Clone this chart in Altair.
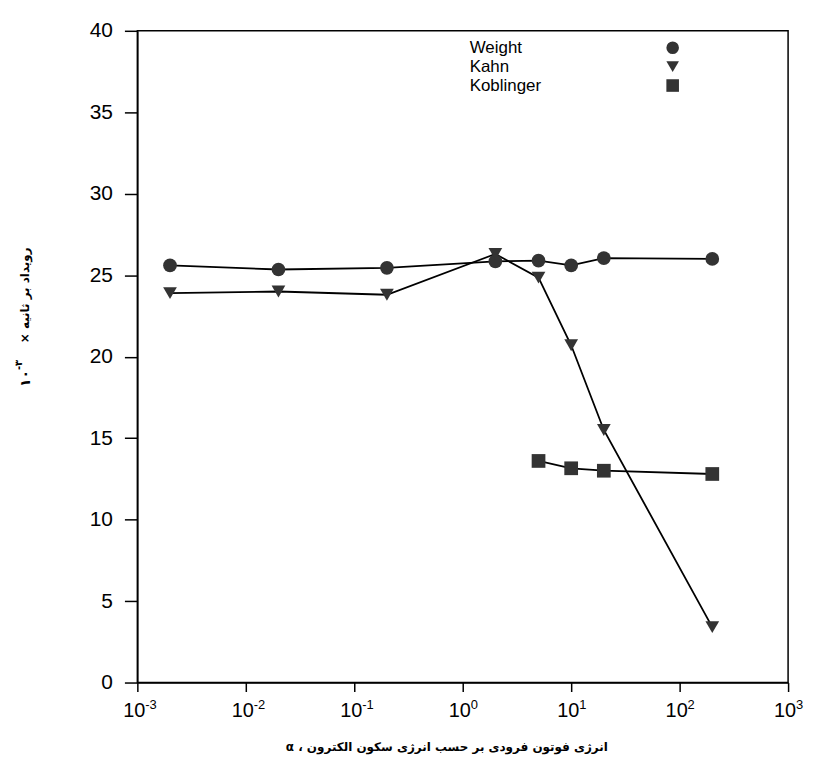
import altair as alt
import pandas as pd

# ---- data ----
series_names = ["Weight", "Kahn", "Koblinger"]
series_shapes = ["circle", "triangle-down", "square"]

weight_x = [0.002, 0.02, 0.2, 2, 5, 10, 20, 200]
weight_y = [25.6, 25.35, 25.45, 25.85, 25.9, 25.6, 26.05, 26.0]

kahn_x = [0.002, 0.02, 0.2, 2, 5, 10, 20, 200]
kahn_y = [23.9, 24.0, 23.8, 26.3, 24.85, 20.7, 15.5, 3.4]

kob_x = [5, 10, 20, 200]
kob_y = [13.6, 13.15, 13.0, 12.8]

x_exponents = [-3, -2, -1, 0, 1, 2, 3]
x_exp_labels = ["-3", "-2", "-1", "0", "1", "2", "3"]
y_ticks = [0, 5, 10, 15, 20, 25, 30, 35, 40]

x_title = "α ، انرژی فوتون فرودی بر حسب انرژی سکون الکترون"
y_title_main = "× رویداد بر ثانیه"
y_title_base = "۱۰"
y_title_exp = "-۳"

rows = []
for name, xs, ys in [("Weight", weight_x, weight_y), ("Kahn", kahn_x, kahn_y), ("Koblinger", kob_x, kob_y)]:
    for a, b in zip(xs, ys):
        rows.append({"series": name, "x": a, "y": b})
df = pd.DataFrame(rows)

W, H = 654, 655
FONT = "Liberation Sans"
AR_FONT = "DejaVu Sans"

xscale = alt.Scale(type="log", domain=[0.001, 1000])
yscale = alt.Scale(domain=[0, 40])
shape_scale = alt.Scale(domain=series_names, range=series_shapes)

base = alt.Chart(df)
lines = base.mark_line(color="black", strokeWidth=1.8).encode(
    x=alt.X("x:Q", scale=xscale,
            axis=alt.Axis(values=[10.0 ** e for e in x_exponents], labels=False,
                          tickSize=9, title=None, grid=False)),
    y=alt.Y("y:Q", scale=yscale,
            axis=alt.Axis(values=y_ticks, tickSize=13, labelPadding=12,
                          labelFontSize=21, labelFont=FONT, title=None, grid=False)),
    detail="series:N",
)
points = base.mark_point(filled=True, opacity=1, color="#333333", size=190).encode(
    x=alt.X("x:Q", scale=xscale),
    y=alt.Y("y:Q", scale=yscale),
    shape=alt.Shape("series:N", scale=shape_scale, legend=None),
)

lab_df = pd.DataFrame({"v": [10.0 ** e for e in x_exponents], "exp": x_exp_labels})
xlab_base = alt.Chart(lab_df).mark_text(
    text="10", fontSize=20, font=FONT, align="center", baseline="alphabetic", dx=-3, color="black"
).encode(x=alt.X("v:Q", scale=xscale), y=alt.value(H + 35))
xlab_exp = alt.Chart(lab_df).mark_text(
    fontSize=13, font=FONT, align="left", baseline="alphabetic", dx=8, color="black"
).encode(x=alt.X("v:Q", scale=xscale), y=alt.value(H + 27), text="exp:N")

xt_df = pd.DataFrame({"t": [x_title]})
x_title_mark = alt.Chart(xt_df).mark_text(
    font=AR_FONT, fontWeight="bold", fontSize=12, align="center", baseline="alphabetic", color="black"
).encode(x=alt.value(311), y=alt.value(H + 69), text="t:N")

yt_df = pd.DataFrame({"base": [y_title_base], "exp": [y_title_exp], "main": [y_title_main]})
yt_base = alt.Chart(yt_df).mark_text(
    font=AR_FONT, fontWeight="bold", fontSize=14, angle=270, align="left", baseline="alphabetic", color="black"
).encode(x=alt.value(-108), y=alt.value(358), text="base:N")
yt_exp = alt.Chart(yt_df).mark_text(
    font=AR_FONT, fontWeight="bold", fontSize=10, angle=270, align="left", baseline="alphabetic", color="black"
).encode(x=alt.value(-116), y=alt.value(341), text="exp:N")
yt_main = alt.Chart(yt_df).mark_text(
    font=AR_FONT, fontWeight="bold", fontSize=12, angle=270, align="left", baseline="alphabetic", color="black"
).encode(x=alt.value(-109), y=alt.value(314), text="main:N")

leg_df = pd.DataFrame({"series": series_names})
leg_y = alt.Y("series:N", scale=alt.Scale(type="point", domain=series_names, range=[17, 55], padding=0), axis=None)
leg_text = alt.Chart(leg_df).mark_text(
    font=FONT, fontSize=17, align="left", baseline="middle", color="black"
).encode(x=alt.value(334), y=leg_y, text="series:N")
leg_pts = alt.Chart(leg_df).mark_point(filled=True, opacity=1, color="#333333", size=160).encode(
    x=alt.value(538), y=leg_y, shape=alt.Shape("series:N", scale=shape_scale, legend=None)
)

main = alt.layer(lines, points, xlab_base, xlab_exp, x_title_mark, yt_base, yt_exp, yt_main)
legend = alt.layer(leg_text, leg_pts)

chart = alt.layer(main, legend).resolve_scale(y="independent").properties(
    width=W, height=H,
    autosize=alt.AutoSizeParams(type="none"),
    padding={"left": 130, "top": 21, "right": 18, "bottom": 90},
).configure_view(
    stroke="black", strokeWidth=1.5
).configure_axis(
    domainColor="black", domainWidth=1.5, tickColor="black", tickWidth=1.5,
    labelColor="black", labelFont=FONT
)

chart.save("out.html", embed_options={"renderer": "svg", "actions": False})
